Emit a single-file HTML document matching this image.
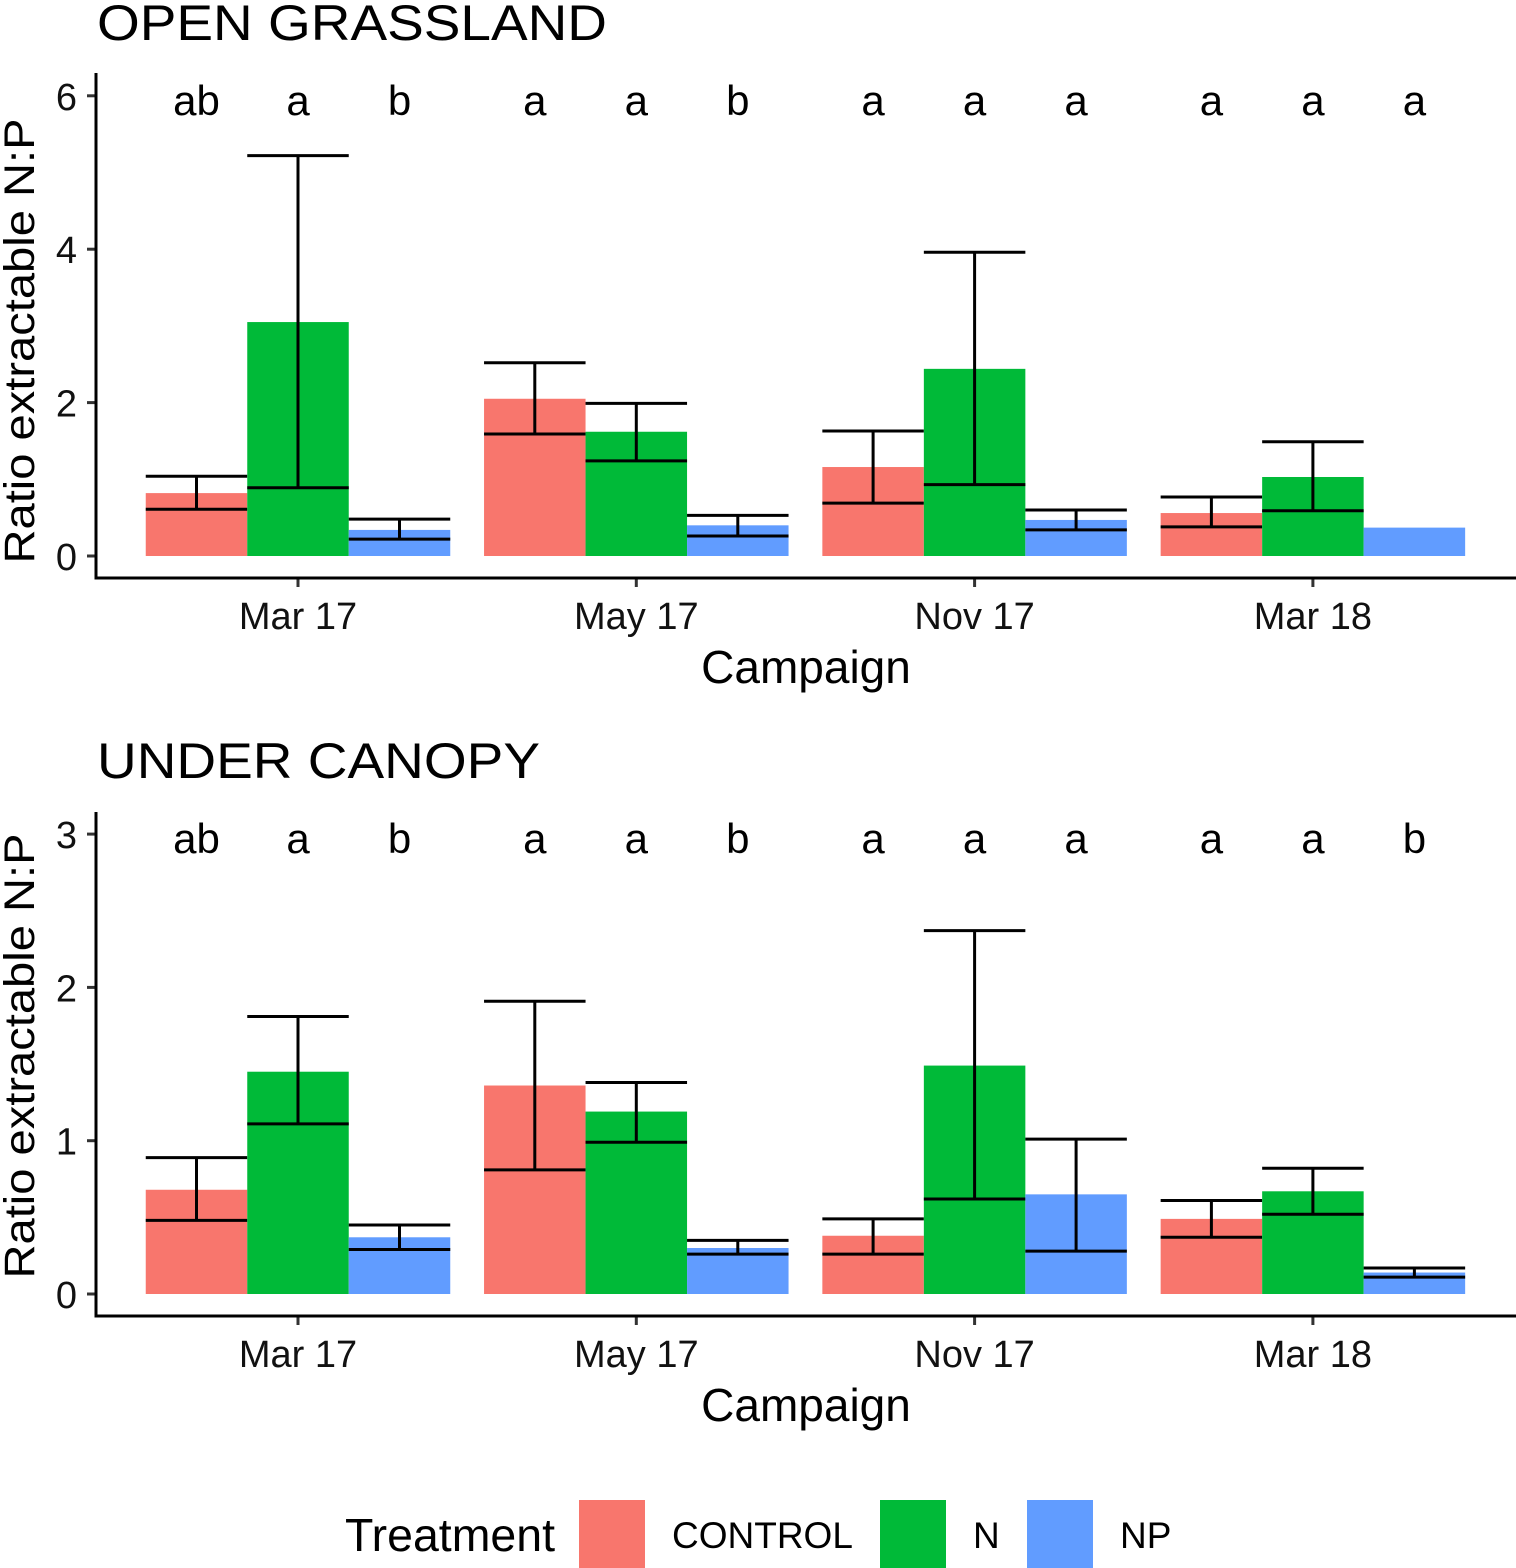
<!DOCTYPE html>
<html><head><meta charset="utf-8"><style>
html,body{margin:0;padding:0;background:#fff}
svg{display:block;font-family:"Liberation Sans",Arial,sans-serif}
</style></head><body>
<svg id="chart" width="1516" height="1568" viewBox="0 0 1516 1568" xmlns="http://www.w3.org/2000/svg"></svg>
<script>
const categories = ["Mar 17","May 17","Nov 17","Mar 18"];
const treatments = ["CONTROL","N","NP"];
const colors = ["#F8766D","#00BA38","#619CFF"];
// Open grassland
const topMeans = [[0.82,3.05,0.34],[2.05,1.62,0.40],[1.16,2.44,0.47],[0.56,1.03,0.37]];
const topHi    = [[1.04,5.22,0.48],[2.52,1.99,0.53],[1.63,3.96,0.60],[0.77,1.49,null]];
const topLo    = [[0.61,0.89,0.22],[1.59,1.24,0.26],[0.69,0.93,0.34],[0.38,0.59,null]];
const topLetters = [["ab","a","b"],["a","a","b"],["a","a","a"],["a","a","a"]];
const topTicks = [0,2,4,6];
// Under canopy
const botMeans = [[0.68,1.45,0.37],[1.36,1.19,0.30],[0.38,1.49,0.65],[0.49,0.67,0.14]];
const botHi    = [[0.89,1.81,0.45],[1.91,1.38,0.35],[0.49,2.37,1.01],[0.61,0.82,0.17]];
const botLo    = [[0.48,1.11,0.29],[0.81,0.99,0.26],[0.26,0.62,0.28],[0.37,0.52,0.11]];
const botLetters = [["ab","a","b"],["a","a","b"],["a","a","a"],["a","a","b"]];
const botTicks = [0,1,2,3];

const NS="http://www.w3.org/2000/svg";
const svg=document.getElementById('chart');
function mk(tag,attrs,parent){const e=document.createElementNS(NS,tag);for(const k in attrs)e.setAttribute(k,attrs[k]);(parent||svg).appendChild(e);return e;}
function txt(s,attrs,parent){const e=mk('text',attrs,parent);e.textContent=s;return e;}

function panel(o){
  const g=mk('g',{});
  
  
  const y=v=>o.y0-v*o.ppu;
  const xc=i=>298+i*338.3;
  const bw=101.5;
  const t=txt(o.title,{x:97,y:o.titleY,'font-size':50,textLength:o.titleLen,lengthAdjust:'spacingAndGlyphs'},g);
  
  
  categories.forEach((c,i)=>{
    treatments.forEach((tr,j)=>{
      const x0=xc(i)+(j-1.5)*bw;
      const r=mk('rect',{x:x0,y:y(o.means[i][j]),width:bw,height:o.means[i][j]*o.ppu,fill:colors[j]},g);
      
      
      const cx=x0+bw/2;
      if(o.hi[i][j]!==null){
        const eb=mk('path',{d:`M${x0} ${y(o.hi[i][j])}H${x0+bw}M${cx} ${y(o.hi[i][j])}V${y(o.lo[i][j])}M${x0} ${y(o.lo[i][j])}H${x0+bw}`,stroke:'#000','stroke-width':3,fill:'none'},g);
        
        
      }
      const l=txt(o.letters[i][j],{x:cx,y:o.letterY,'font-size':42,'text-anchor':'middle'},g);
      
      
    });
    mk('line',{x1:xc(i),x2:xc(i),y1:o.axisY,y2:o.axisY+9,stroke:'#333','stroke-width':3},g);
    const tl=txt(c,{x:xc(i),y:o.axisY+51,'font-size':38,'text-anchor':'middle',fill:'#111'},g);
    
    
  });
  o.ticks.forEach(v=>{
    mk('line',{x1:87,x2:96,y1:y(v),y2:y(v),stroke:'#333','stroke-width':3},g);
    const tl=txt(String(v),{x:77,y:y(v)+14,'font-size':38,'text-anchor':'end',fill:'#111'},g);
    
    
  });
  mk('path',{d:`M96 ${o.axisTop}V${o.axisY}H1516`,stroke:'#000','stroke-width':3,fill:'none'},g);
  const xt=txt('Campaign',{x:806,y:o.axisY+105,'font-size':46,'text-anchor':'middle'},g);
  
  
  const ym=o.yTitleMid;
  const yt=txt('Ratio extractable N:P',{x:0,y:0,'font-size':43,'text-anchor':'middle',textLength:445,lengthAdjust:'spacingAndGlyphs',transform:`translate(34 ${ym}) rotate(-90)`},g);
  
  
}
panel({name:'open-grassland-panel',title:'OPEN GRASSLAND',titleLen:510,titleY:40,y0:556,ppu:76.7,axisY:578,axisTop:73,letterY:115,yTitleMid:341,ticks:topTicks,means:topMeans,hi:topHi,lo:topLo,letters:topLetters});
panel({name:'under-canopy-panel',title:'UNDER CANOPY',titleLen:443,titleY:778,y0:1294,ppu:153.3,axisY:1316,axisTop:812,letterY:853,yTitleMid:1056,ticks:botTicks,means:botMeans,hi:botHi,lo:botLo,letters:botLetters});

const lg=mk('g',{});


const lt=txt('Treatment',{x:345,y:1551,'font-size':46,textLength:210,lengthAdjust:'spacingAndGlyphs'},lg);


const keyX=[579,880,1027];
treatments.forEach((tr,j)=>{
  const r=mk('rect',{x:keyX[j],y:1500,width:66,height:68,fill:colors[j]},lg);
  
  
  const l=txt(tr,{x:keyX[j]+93,y:1548,'font-size':37},lg);
  
  
});
</script>
</body></html>
